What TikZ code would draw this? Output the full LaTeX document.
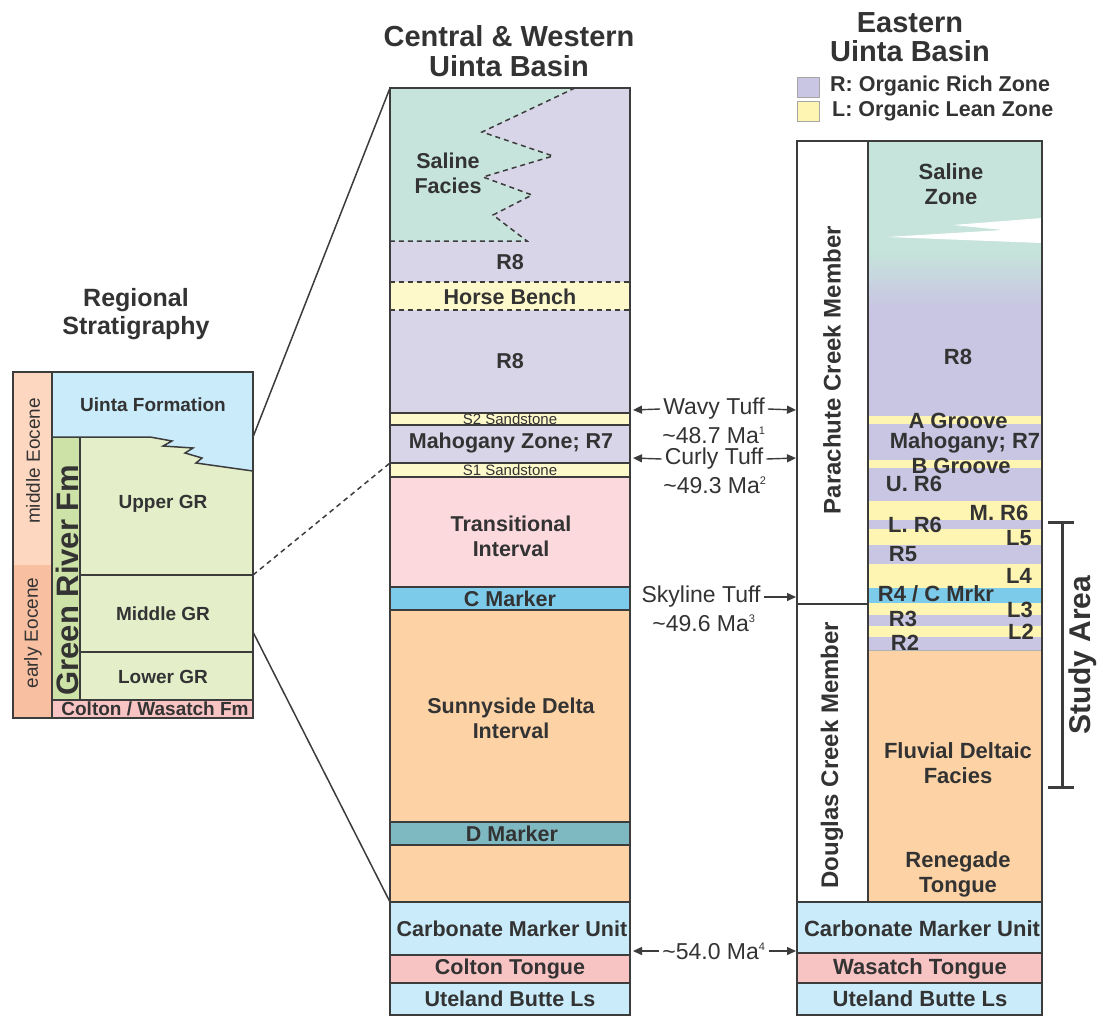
\documentclass[tikz,border=0pt]{standalone}
\usepackage{fontspec}
\setmainfont{Liberation Sans}
\usetikzlibrary{arrows.meta}
\definecolor{txt}{HTML}{333333}
\definecolor{edge}{HTML}{3C3C3C}
\definecolor{purpm}{HTML}{D8D5E9}
\definecolor{purpr}{HTML}{C9C6E3}
\definecolor{yelm}{HTML}{FEF9CB}
\definecolor{yelr}{HTML}{FFF5B2}
\definecolor{saline}{HTML}{C6E4DB}
\definecolor{transp}{HTML}{FBD9DD}
\definecolor{cblue}{HTML}{7DCBEB}
\definecolor{peach}{HTML}{FDD3A6}
\definecolor{dteal}{HTML}{7EB9C1}
\definecolor{lblue}{HTML}{C9EBFA}
\definecolor{cpink}{HTML}{F8C3C3}
\definecolor{lgreen}{HTML}{E4EFCA}
\definecolor{dgreen}{HTML}{CCE2A7}
\definecolor{mideo}{HTML}{FDD7BF}
\definecolor{earlyeo}{HTML}{F9BFA1}
\tikzset{
  lab/.style={font=\bfseries\fontsize{21.5}{25}\selectfont, text=txt, align=center, inner sep=0pt},
  rlab/.style={font=\bfseries\fontsize{22}{25}\selectfont, text=txt, align=center, inner sep=0pt},
  llab/.style={font=\bfseries\fontsize{19}{22}\selectfont, text=txt, align=center, inner sep=0pt},
  ttl/.style={font=\bfseries\fontsize{29}{29.5}\selectfont, text=txt, align=center, inner sep=0pt},
  ann/.style={font=\fontsize{23}{26}\selectfont, text=txt, align=center, inner sep=0pt},
  tiny/.style={font=\fontsize{15}{16}\selectfont, text=txt, inner sep=0pt},
  bord/.style={draw=edge, line width=1.8pt},
  thin/.style={draw=edge, line width=1.5pt},
  dsh/.style={draw=edge, line width=1.5pt, dash pattern=on 5pt off 4pt},
  arr/.style={draw=edge, line width=1.4pt, -{Triangle[length=9pt,width=8pt]}},
}
\newcommand{\supnum}[1]{\textsuperscript{\fontsize{11}{11}\selectfont #1}}
\begin{document}
\begin{tikzpicture}[x=1pt,y=-1pt]
\useasboundingbox (0,0) rectangle (1103,1026);

% ================= LEFT COLUMN =================
\node[ttl, font=\bfseries\fontsize{25}{28}\selectfont] (regt) at (136,314) {Regional\\Stratigraphy};
\fill[mideo] (13,372) rectangle (52,565);
\fill[earlyeo] (13,565) rectangle (52,718);
\fill[lgreen] (52,437) rectangle (253,700);
\fill[lblue] (52,372) -- (253,372) -- (253,471) -- (196,463) -- (202,458) -- (185,453) -- (193,448) -- (163,446) -- (172,441) -- (150,437) -- (52,437) -- cycle;
\fill[dgreen] (52,437) rectangle (80,700);
\fill[cpink] (52,700) rectangle (253,718);
\draw[thin] (52,437) -- (150,437) -- (172,441) -- (163,446) -- (193,448) -- (185,453) -- (202,458) -- (196,463) -- (253,471);
\draw[thin] (80,437) -- (80,700);
\draw[thin] (80,575) -- (253,575);
\draw[thin] (80,652) -- (253,652);
\draw[thin] (52,700) -- (253,700);
\draw[thin] (52,372) -- (52,718);
\draw[bord] (13,372) rectangle (253,718);
\node[llab] (uintaf) at (153,405) {Uinta Formation};
\node[llab] (uppergr) at (163,504) {Upper GR};
\node[llab] (midgr) at (163,614) {Middle GR};
\node[llab] (lowgr) at (163,677) {Lower GR};
\node[llab] (coltw) at (155,709) {Colton / Wasatch Fm};
\node[font=\fontsize{19}{20}\selectfont, text=txt, rotate=90, inner sep=0pt] (mideoc) at (33,461) {middle Eocene};
\node[font=\fontsize{19}{20}\selectfont, text=txt, rotate=90, inner sep=0pt] (earlyeoc) at (33,633) {early Eocene};
\node[font=\bfseries\fontsize{31}{32}\selectfont, text=txt, rotate=90, inner sep=0pt] (grf) at (67,580) {Green River Fm};

% connector anchor points
\coordinate (lA) at (253,437);
\coordinate (lB) at (253,575);
\coordinate (lC) at (253,632);
\coordinate (mA) at (390,88);
\coordinate (mB) at (390,463);
\coordinate (mC) at (390,902);
\draw[thin] (lA) -- (mA);
\draw[dsh] (lB) -- (mB);
\draw[thin] (lC) -- (mC);

% ================= MIDDLE COLUMN =================
\node[ttl] (cwt) at (509,51) {Central \& Western\\Uinta Basin};
\fill[purpm] (390,88) rectangle (630,282);
\fill[saline] (390,88) -- (575,88) -- (482,132) -- (553,156) -- (483,177) -- (532,195) -- (493,215) -- (527,241) -- (390,241) -- cycle;
\fill[yelm] (390,282) rectangle (630,310);
\fill[purpm] (390,310) rectangle (630,413);
\fill[yelm] (390,413) rectangle (630,425);
\fill[purpm] (390,425) rectangle (630,463);
\fill[yelm] (390,463) rectangle (630,477);
\fill[transp] (390,477) rectangle (630,587);
\fill[cblue] (390,587) rectangle (630,610);
\fill[peach] (390,610) rectangle (630,822);
\fill[dteal] (390,822) rectangle (630,845);
\fill[peach] (390,845) rectangle (630,902);
\fill[lblue] (390,902) rectangle (630,955);
\fill[cpink] (390,955) rectangle (630,983);
\fill[lblue] (390,983) rectangle (630,1015);
\node[tiny] (s2) at (510,419) {S2 Sandstone};
\node[tiny] (s1) at (510,470) {S1 Sandstone};
\draw[dsh] (575,88) -- (482,132) -- (553,156) -- (483,177) -- (532,195) -- (493,215) -- (527,241) -- (390,241);
\draw[dsh] (390,282) -- (630,282);
\draw[dsh] (390,310) -- (630,310);
\foreach \yy in {413,425,463,477,587,610,822,845,902,955,983}
  \draw[thin] (390,\yy) -- (630,\yy);
\draw[bord] (390,88) rectangle (630,1015);

\node[lab] (salf) at (448,173) {Saline\\Facies};
\node[lab] (r8a) at (510,262) {R8};
\node[lab] (horse) at (510,297) {Horse Bench};
\node[lab] (r8b) at (510,361) {R8};
\node[lab] (mahz) at (511,443) {Mahogany Zone; R7};
\node[lab] (trans) at (511,536) {Transitional\\Interval};
\node[lab] (cmark) at (510,599) {C Marker};
\node[lab] (sunny) at (511,718) {Sunnyside Delta\\Interval};
\node[lab] (dmark) at (512,834) {D Marker};
\node[lab] (carbm) at (512,929) {Carbonate Marker Unit};
\node[lab] (coltt) at (510,969) {Colton Tongue};
\node[lab] (utem) at (510,999) {Uteland Butte Ls};

% ================= ANNOTATIONS =================
\coordinate (aL1) at (633,410);
\coordinate (aR1) at (796,410);
\coordinate (aL2) at (633,458);
\coordinate (aR2) at (796,458);
\coordinate (aR3) at (796,597);
\coordinate (aL4) at (633,951);
\coordinate (aR4) at (796,951);
\node[ann] (wavy) at (714,409) {Wavy Tuff};
\node[ann] (wavyma) at (714,435) {\textasciitilde48.7 Ma\supnum{1}};
\node[ann] (curly) at (714,459) {Curly Tuff};
\node[ann] (curlyma) at (715,485) {\textasciitilde49.3 Ma\supnum{2}};
\node[ann] (sky) at (701,597) {Skyline Tuff};
\node[ann] (skyma) at (704,623) {\textasciitilde49.6 Ma\supnum{3}};
\node[ann] (base) at (714,951) {\textasciitilde54.0 Ma\supnum{4}};
\draw[arr] ([xshift=-3pt]wavy.west) -- (aL1);
\draw[arr] ([xshift=3pt]wavy.east) -- (aR1);
\draw[arr] ([xshift=-3pt]curly.west) -- (aL2);
\draw[arr] ([xshift=3pt]curly.east) -- (aR2);
\draw[arr] ([xshift=3pt]sky.east) -- (aR3);
\draw[arr] ([xshift=-3pt]base.west) -- (aL4);
\draw[arr] ([xshift=3pt]base.east) -- (aR4);

% ================= RIGHT COLUMN =================
\node[ttl] (eut) at (910,37) {Eastern\\Uinta Basin};
\fill[purpr, draw=gray!70, line width=0.8pt] (797,77) rectangle (819,97);
\fill[yelr, draw=gray!70, line width=0.8pt] (797,101) rectangle (819,121);
\node[lab, font=\bfseries\fontsize{21.5}{24}\selectfont, anchor=west] (legR) at (830,86) {R: Organic Rich Zone};
\node[lab, font=\bfseries\fontsize{21.5}{24}\selectfont, anchor=west] (legL) at (832,111) {L: Organic Lean Zone};

\fill[white] (797,141) rectangle (868,902);
\fill[saline] (868,141) rectangle (1042,252);
\shade[top color=saline, bottom color=purpr] (868,251) rectangle (1042,306);
\fill[purpr] (868,305) rectangle (1042,650);
\fill[white] (1042,218) -- (953,225) -- (1003,230) -- (887,237) -- (1042,243) -- cycle;
\foreach \ya/\yb in {416/424,460/468,501/520,529/545,564/588,603/615,626/637}
  \fill[yelr] (868,\ya) rectangle (1042,\yb);
\fill[cblue] (868,588) rectangle (1042,603);
\fill[peach] (868,650) rectangle (1042,902);
\fill[lblue] (797,902) rectangle (1042,953);
\fill[cpink] (797,953) rectangle (1042,983);
\fill[lblue] (797,983) rectangle (1042,1015);
\draw[draw=gray!60, line width=0.8pt] (868,650) -- (1042,650);
\draw[thin] (868,141) -- (868,902);
\draw[thin] (797,604) -- (868,604);
\foreach \yy in {902,953,983}
  \draw[thin] (797,\yy) -- (1042,\yy);

\node[rlab] (salz) at (951,184) {Saline\\Zone};
\node[rlab] (r8r) at (958,357) {R8};
\node[rlab] (agr) at (958,421) {A Groove};
\node[rlab] (mahr) at (965,443) {Mahogany; R7};
\node[rlab] (bgr) at (961,466) {B Groove};
\node[rlab] (ur6) at (914,484) {U. R6};
\node[rlab] (mr6) at (999,513) {M. R6};
\node[rlab] (lr6) at (915,525) {L. R6};
\node[rlab] (l5) at (1019,538) {L5};
\node[rlab] (r5) at (903,554) {R5};
\node[rlab] (l4) at (1019,576) {L4};
\node[rlab] (r4) at (936,594) {R4 / C Mrkr};
\node[rlab] (l3) at (1020,610) {L3};
\node[rlab] (r3) at (903,619) {R3};
\node[rlab] (l2) at (1021,632) {L2};
\node[rlab] (r2) at (905,643) {R2};
\node[rlab] (fluv) at (958,763) {Fluvial Deltaic\\Facies};
\node[rlab] (reneg) at (958,874) {Renegade\\Tongue};
\node[rlab] (carbr) at (922,929) {Carbonate Marker Unit};
\node[rlab] (wast) at (920,969) {Wasatch Tongue};
\node[rlab] (uter) at (920,999) {Uteland Butte Ls};
\draw[bord] (797,141) rectangle (1042,1015);
\node[font=\bfseries\fontsize{24}{26}\selectfont, text=txt, rotate=90, inner sep=0pt] (para) at (832,370) {Parachute Creek Member};
\node[font=\bfseries\fontsize{24}{26}\selectfont, text=txt, rotate=90, inner sep=0pt] (doug) at (832,755) {Douglas Creek Member};

% study area bracket
\coordinate (sT) at (1062,522);
\coordinate (sB) at (1062,787);
\draw[draw=edge, line width=3pt] (sT) -- (sB);
\draw[draw=edge, line width=3pt] (1048,522) -- (1074,522);
\draw[draw=edge, line width=3pt] (1048,787) -- (1074,787);
\node[font=\bfseries\fontsize{30}{32}\selectfont, text=txt, rotate=90, inner sep=0pt] (study) at (1083,655) {Study Area};
\end{tikzpicture}
\end{document}
